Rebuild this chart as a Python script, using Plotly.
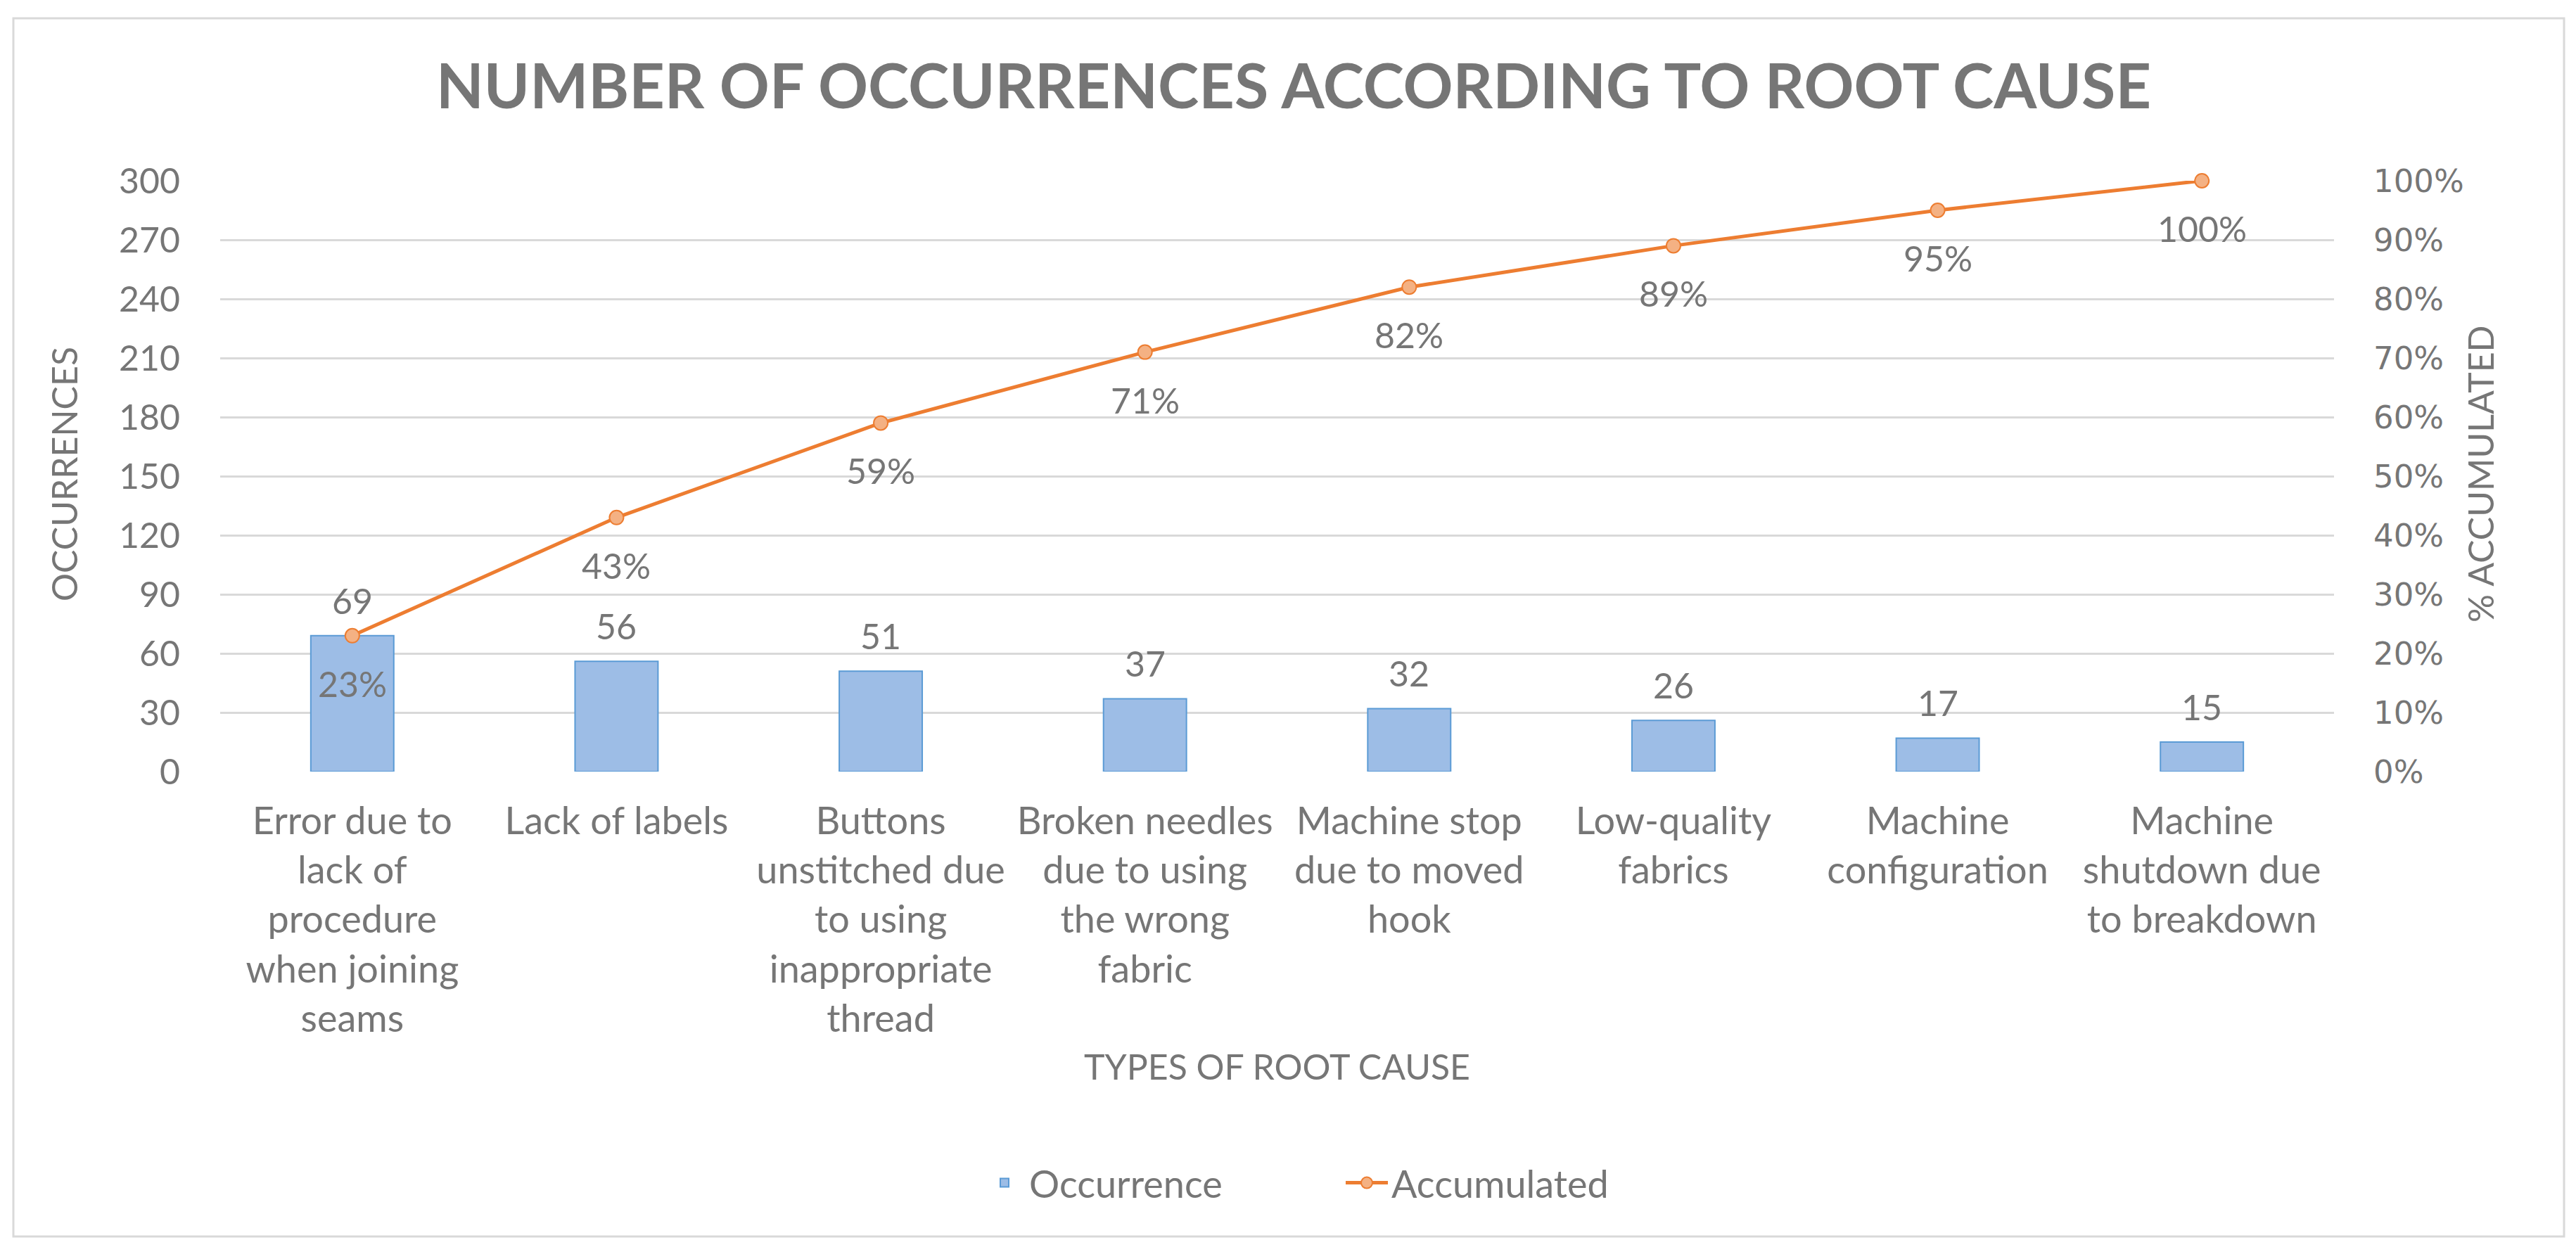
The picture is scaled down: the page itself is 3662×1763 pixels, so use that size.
import plotly.graph_objects as go

categories = [
    "Error due to<br>lack of<br>procedure<br>when joining<br>seams",
    "Lack of labels",
    "Buttons<br>unstitched due<br>to using<br>inappropriate<br>thread",
    "Broken needles<br>due to using<br>the wrong<br>fabric",
    "Machine stop<br>due to moved<br>hook",
    "Low-quality<br>fabrics",
    "Machine<br>configuration",
    "Machine<br>shutdown due<br>to breakdown",
]
occurrences = [69, 56, 51, 37, 32, 26, 17, 15]
accumulated = [0.23, 0.43, 0.59, 0.71, 0.82, 0.89, 0.95, 1.00]
left_ticks = [0, 30, 60, 90, 120, 150, 180, 210, 240, 270, 300]
right_ticks = [0, 0.1, 0.2, 0.3, 0.4, 0.5, 0.6, 0.7, 0.8, 0.9, 1.0]

W, H = 3662, 1763
L, R, T, B = 305, 3310, 249, 1089
GRAY = "#767676"
FONT = "Lato"

def px_x(p):
    return (p - L) / (R - L)

def px_y(p):
    return (B - p) / (B - T)

x = list(range(len(categories)))

fig = go.Figure()
fig.add_trace(go.Bar(
    x=x, y=occurrences, name="Occurrence",
    marker=dict(color="#9dbde6", line=dict(color="#5b9bd5", width=2)),
    yaxis="y",
))
fig.add_trace(go.Scatter(
    x=x, y=accumulated, name="Accumulated", mode="lines+markers",
    line=dict(color="#ed7d31", width=5),
    marker=dict(color="#f4b183", size=20, line=dict(color="#ed7d31", width=2)),
    yaxis="y2", cliponaxis=False,
))

annotations = []
for xi, v in zip(x, occurrences):
    annotations.append(dict(x=xi, y=v, xref="x", yref="y", text=str(v),
                            showarrow=False, yshift=50,
                            font=dict(family=FONT, size=50, color=GRAY)))
for xi, v in zip(x, accumulated):
    annotations.append(dict(x=xi, y=v, xref="x", yref="y2", text=f"{round(v*100)}%",
                            showarrow=False, yshift=-68,
                            font=dict(family=FONT, size=50, color=GRAY)))
annotations += [
    dict(x=0.5, y=px_y(1540), xref="paper", yref="paper", text="TYPES OF ROOT CAUSE",
         showarrow=False, font=dict(family=FONT, size=50, color=GRAY)),
    dict(x=px_x(51), y=px_y(666), xref="paper", yref="paper", text="OCCURRENCES",
         showarrow=False, textangle=-90, font=dict(family=FONT, size=50, color=GRAY)),
    dict(x=px_x(3550), y=px_y(666), xref="paper", yref="paper", text="% ACCUMULATED",
         showarrow=False, textangle=-90, font=dict(family=FONT, size=50, color=GRAY)),
]

fig.update_layout(
    width=W, height=H,
    margin=dict(l=L, r=W - R, t=T, b=H - B),
    paper_bgcolor="white", plot_bgcolor="white",
    title=dict(text="<b>NUMBER OF OCCURRENCES ACCORDING TO ROOT CAUSE</b>",
               x=0.5, xanchor="center", y=1 - 115 / H, yanchor="middle",
               font=dict(family=FONT, size=88, color=GRAY)),
    bargap=0.686,
    showlegend=True,
    legend=dict(orientation="h", x=px_x(1900), xanchor="center", y=px_y(1674), yanchor="middle",
                font=dict(family=FONT, size=54, color=GRAY), itemwidth=60,
                entrywidth=440, entrywidthmode="pixels"),
    xaxis=dict(tickmode="array", tickvals=x, ticktext=categories, range=[-0.5, 7.5],
               showgrid=False, zeroline=False, showline=False, ticks="",
               tickfont=dict(family=FONT, size=54, color=GRAY), ticklabelstandoff=34),
    yaxis=dict(range=[0, 300], tickmode="array", tickvals=left_ticks,
               showgrid=True, gridcolor="#d9d9d9", gridwidth=3, zeroline=False,
               showline=False, ticks="", ticklabelstandoff=56,
               tickfont=dict(family=FONT, size=50, color=GRAY)),
    yaxis2=dict(range=[0, 1], overlaying="y", side="right", tickmode="array",
                tickvals=right_ticks, tickformat=".0%", showgrid=False, zeroline=False,
                showline=False, ticks="", ticklabelstandoff=55,
                tickfont=dict(family="DejaVu Sans", size=45, color=GRAY)),
    annotations=annotations,
    shapes=[dict(type="rect", xref="paper", yref="paper",
                 x0=px_x(11), x1=px_x(3637), y0=px_y(1750), y1=px_y(18),
                 line=dict(color="#d9d9d9", width=3), fillcolor="rgba(0,0,0,0)", layer="below")],
)

fig.write_html("out.html")
